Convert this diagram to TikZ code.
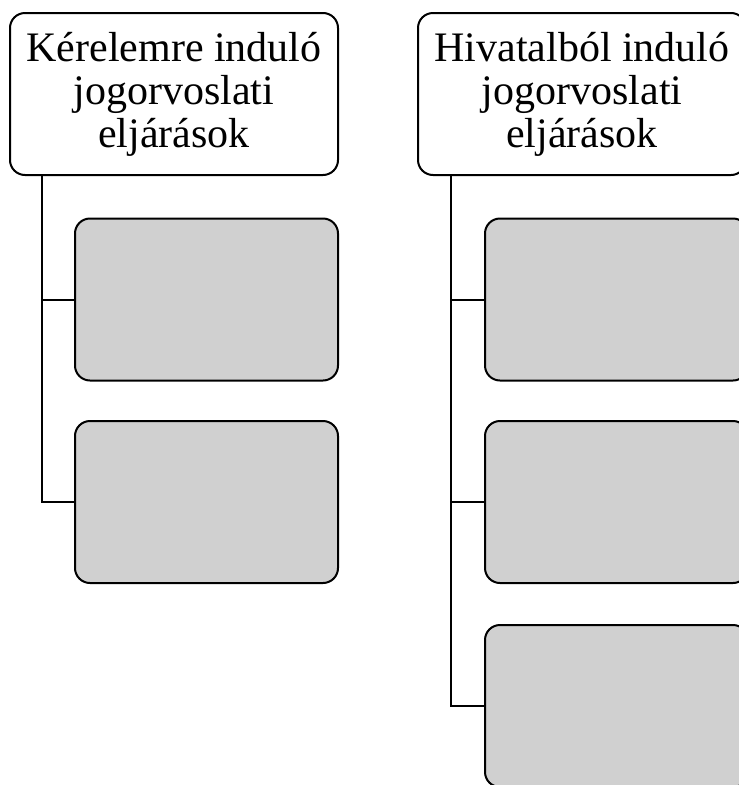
\documentclass[tikz,border=0pt]{standalone}
\usepackage{fontspec}
\setmainfont{Liberation Serif}
\begin{document}
\begin{tikzpicture}[x=1pt,y=-1pt,
  line width=2pt,
  hdr/.style={draw=black, fill=white, rounded corners=15pt, minimum width=328pt, minimum height=162pt, align=center, inner sep=0pt, font=\fontsize{42}{43}\selectfont},
  leaf/.style={draw=black, fill=leafgray, rounded corners=15pt, minimum width=263pt, minimum height=162pt, inner sep=0pt},
  conn/.style={draw=black, line width=2pt}]
\definecolor{leafgray}{HTML}{D0D0D0}
\useasboundingbox (0,0) rectangle (739,785);
\node[hdr] (hL) at (174,94) {Kérelemre induló\\jogorvoslati\\eljárások};
\node[hdr] (hR) at (582,94) {Hivatalból induló\\jogorvoslati\\eljárások};
\node[leaf] (l1) at (206.5,299.5) {};
\node[leaf] (l2) at (206.5,502) {};
\node[leaf] (r1) at (616.5,299.5) {};
\node[leaf] (r2) at (616.5,502) {};
\node[leaf] (r3) at (616.5,706) {};
\coordinate (tL) at ([xshift=33pt]hL.south west);
\coordinate (tR) at ([xshift=34pt]hR.south west);
\draw[conn] (tL) |- (l1.west);
\draw[conn] (tL) |- (l2.west);
\draw[conn] (tR) |- (r1.west);
\draw[conn] (tR) |- (r2.west);
\draw[conn] (tR) |- (r3.west);
\end{tikzpicture}
\end{document}
